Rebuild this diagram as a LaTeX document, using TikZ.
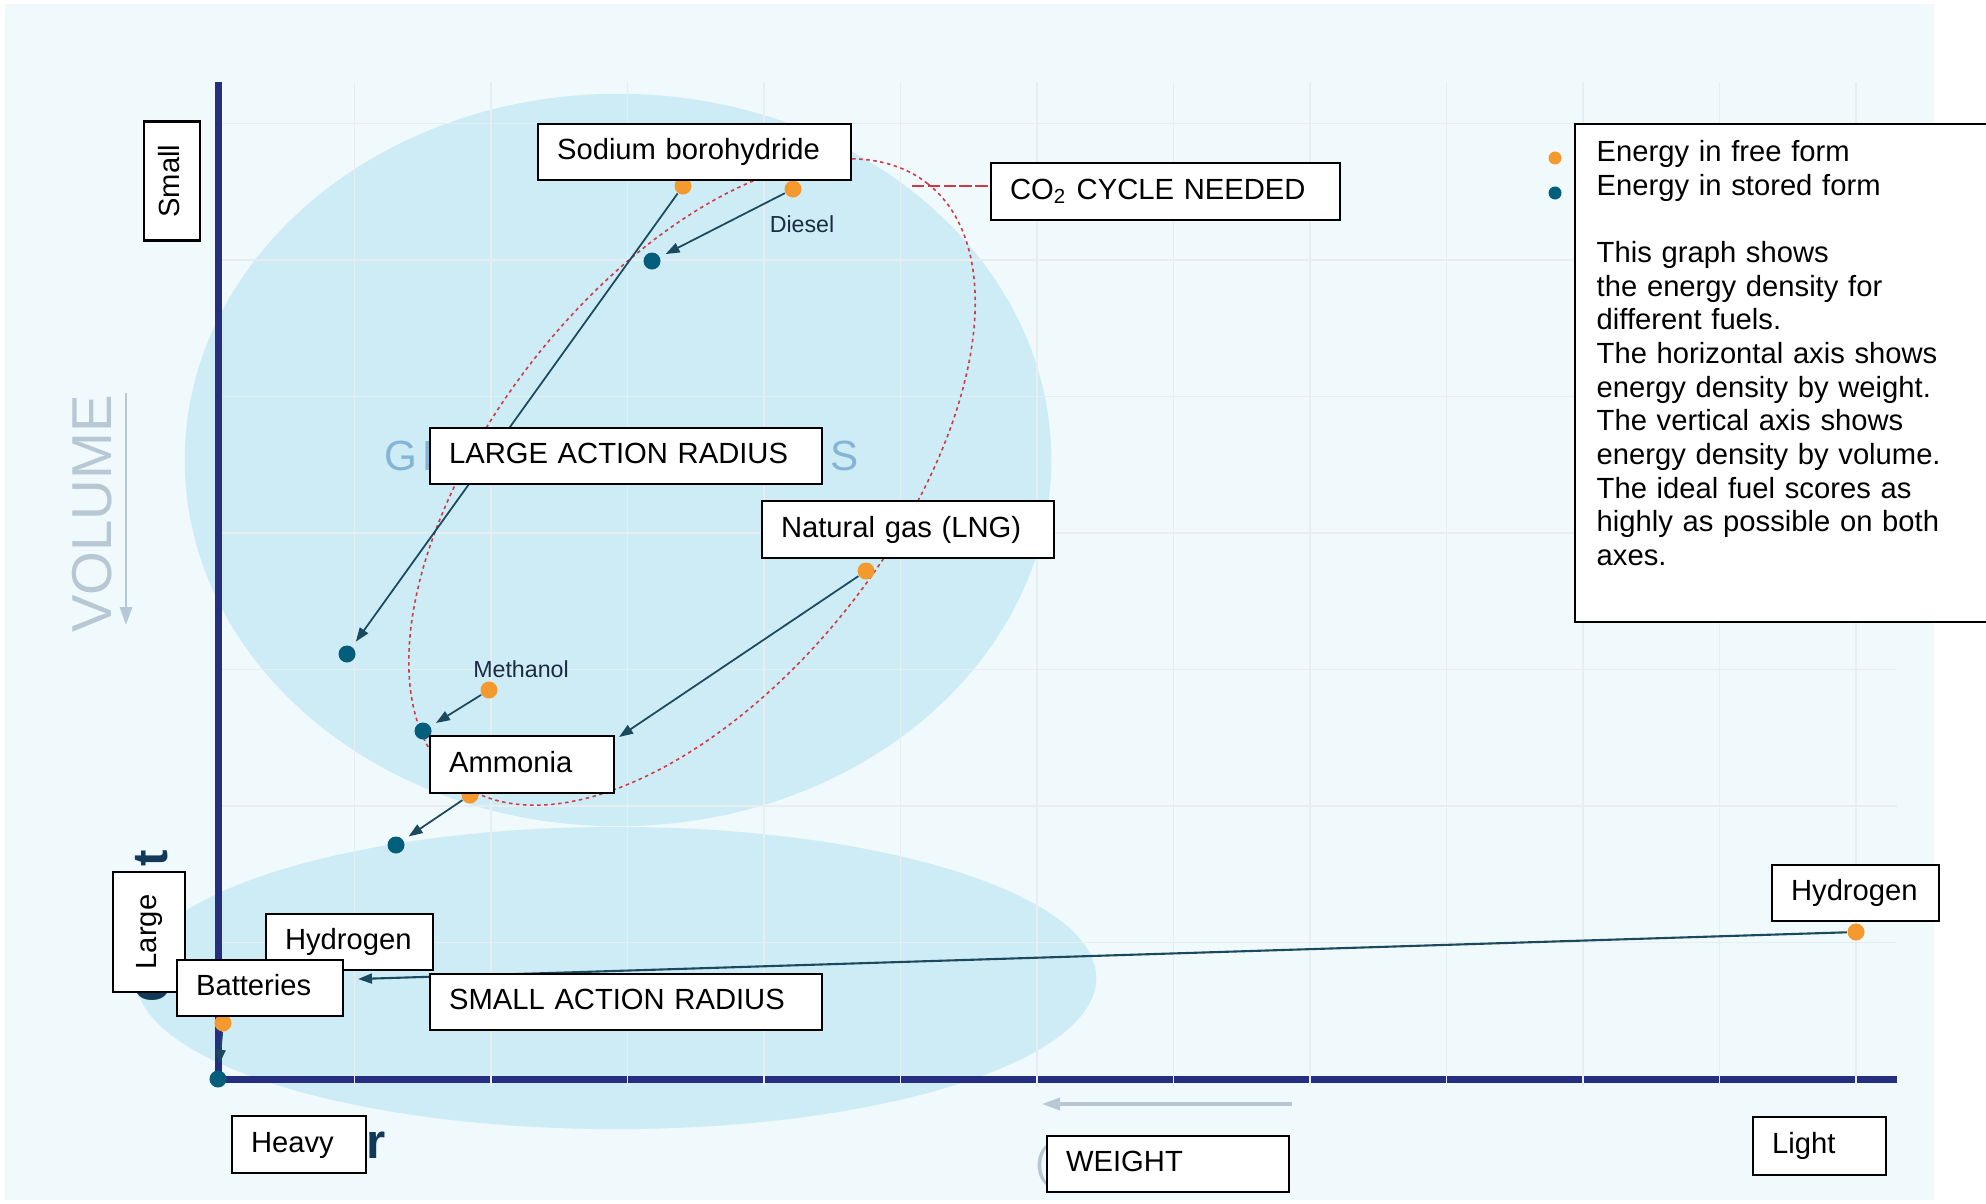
\documentclass[tikz,border=0pt]{standalone}
\usepackage{fontspec}
\setmainfont{Liberation Sans}
\usetikzlibrary{arrows.meta,positioning}

\definecolor{bgblue}{HTML}{F0F9FC}
\definecolor{blobblue}{HTML}{CDECF5}
\definecolor{gridtone}{HTML}{E6EEF2}
\definecolor{axisnavy}{HTML}{262F7F}
\definecolor{fuelorange}{HTML}{F3992D}
\definecolor{fuelteal}{HTML}{035E7B}
\definecolor{arrowteal}{HTML}{1B4A5E}
\definecolor{co2red}{HTML}{D13A44}
\definecolor{hintgray}{HTML}{B7C8D4}
\definecolor{ghostblue}{HTML}{84B5D5}
\definecolor{ghostnavy}{HTML}{12385A}
\definecolor{smalltext}{HTML}{1C2B45}

\begin{document}
\begin{tikzpicture}[x=0.01cm, y=-0.01cm,
    lbl/.style={draw=black, line width=0.6pt, fill=white, anchor=north west,
        inner xsep=0.19cm, inner ysep=0pt, align=left,
        text height=0.21cm, text depth=0.06cm,
        font=\fontsize{8.3}{9.56}\selectfont},
    vlbl/.style={lbl, anchor=center, rotate=90, inner xsep=0pt, align=center},
    fdot/.style={circle, fill=fuelorange, inner sep=0pt, minimum size=0.17cm},
    sdot/.style={circle, fill=fuelteal, inner sep=0pt, minimum size=0.17cm},
    conn/.style={draw=arrowteal, line width=0.5pt, -{Triangle[length=0.14cm,width=0.1cm]}, shorten >=0.06cm},
    hint/.style={draw=hintgray, line width=0.8pt, -{Triangle[length=0.18cm,width=0.12cm]}},
    fuelname/.style={text=smalltext, font=\fontsize{6.6}{8}\selectfont},
    ghost/.style={inner sep=0pt, text=ghostblue, font=\fontsize{12}{14}\selectfont},
    ghostbold/.style={inner sep=0pt, text=ghostnavy, font=\fontsize{14}{16}\selectfont\bfseries},
    gridline/.style={draw=gridtone, line width=0.4pt},
    co2ring/.style={draw=co2red, line width=0.45pt, dash pattern=on 1pt off 1pt},
    co2link/.style={draw=co2red, line width=0.7pt, dash pattern=on 3.5pt off 1pt}
]
\useasboundingbox (0,0) rectangle (1986,1203);
\clip (0,0) rectangle (1986,1203);

% background and the two zones
\fill[white] (0,0) rectangle (1986,1203);
\fill[bgblue] (5,4) rectangle (1934,1200);
\fill[blobblue] (618,460) ellipse [x radius=4.33cm, y radius=3.66cm];
\fill[blobblue] (616,978) ellipse [x radius=4.8cm, y radius=1.51cm];

% axes and faint grid
\draw[axisnavy, line width=0.07cm] (218,82) -- (218,1079) -- (1897,1079);
\foreach \k in {1,...,7}
    \draw[gridline] (222,{1079-136.5*\k}) -- (1897,{1079-136.5*\k});
\foreach \k in {1,...,12}
    \draw[gridline] ({218+136.5*\k},82) -- ({218+136.5*\k},1086);

% axis hints
\node[rotate=90, text=hintgray, font=\fontsize{16}{18}\selectfont] (volume) at (92,514) {VOLUME};
\coordinate (volstart) at (126,393);
\coordinate (volend) at (126,625);
\draw[hint] (volstart) -- (volend);
\coordinate (wtstart) at (1292,1104);
\coordinate (wtend) at (1042,1104);
\draw[hint, line width=1pt] (wtstart) -- (wtend);

% bits of lettering behind the boxes
\node[ghost, anchor=west] (gfront) at (384,456) {G\hspace{0.05cm}F};
\node[ghost, anchor=west] (gback) at (830,456) {S};
\node[ghost, text=hintgray] (paren) at (1043,1166) {(};
\node[ghostbold, rotate=90] (tmark) at (152,858) {t};
\node[ghostbold, rotate=90] (cmark) at (153,985) {C};
\node[ghostbold, anchor=base west] (rmark) at (366,1158) {r};

% CO2 cycle
\draw[co2ring, rotate around={51.7:(692,482)}] (692,482) ellipse [x radius=3.8cm, y radius=2.0cm];
\coordinate (co2pt) at (912,186);

% fuels: free form and stored form
\node[fdot] (sodf) at (683,186) {};
\node[sdot] (sods) at (347,654) {};
\node[fdot] (diesf) at (793,189) {};
\node[sdot] (diess) at (652,261) {};
\node[fdot] (lngf) at (866,571) {};
\coordinate (lngend) at (619,737);
\node[fdot] (methf) at (489,690) {};
\node[sdot] (meths) at (423,731) {};
\node[fdot] (ammf) at (470,795) {};
\node[sdot] (amms) at (396,845) {};
\node[fdot] (batf) at (223,1023) {};
\node[sdot] (bats) at (218,1079) {};
\node[fdot] (h2f) at (1856,932) {};
\coordinate (h2end) at (358,979);

\draw[conn] (sodf) -- (sods);
\draw[conn] (diesf) -- (diess);
\draw[conn, shorten >=0pt] (lngf) -- (lngend);
\draw[conn] (methf) -- (meths);
\draw[conn] (ammf) -- (amms);
\draw[conn] (batf) -- (bats);
\draw[conn, shorten >=0pt, line width=0.6pt] (h2f) -- (h2end);

\node[fuelname] (diesname) at (802,224) {Diesel};
\node[fuelname] (methname) at (521,669) {Methanol};

% labels
\node[vlbl, minimum width=1.19cm, minimum height=0.56cm] (small) at (172,181) {Small};
\node[lbl, text width=2.75cm, minimum height=0.56cm] (sodium) at (537,123) {Sodium borohydride};
\node[lbl, text width=3.11cm, minimum height=0.57cm] (co2) at (990,162) {CO\textsubscript{2} CYCLE NEEDED};
\node[lbl, text width=3.54cm, minimum height=0.56cm] (largear) at (429,427) {LARGE ACTION RADIUS};
\node[lbl, text width=2.54cm, minimum height=0.57cm] (natgas) at (761,500) {Natural gas (LNG)};
\node[lbl, text width=1.46cm, minimum height=0.57cm] (ammonia) at (429,735) {Ammonia};
\node[lbl, text width=1.29cm, minimum height=0.56cm] (h2left) at (265,913) {Hydrogen};
\node[vlbl, minimum width=1.2cm, minimum height=0.72cm] (large) at (149,932) {Large};
\node[lbl, text width=1.28cm, minimum height=0.56cm] (batteries) at (176,959) {Batteries};
\node[lbl, text width=3.54cm, minimum height=0.56cm] (smallar) at (429,973) {SMALL ACTION RADIUS};
\node[lbl, text width=0.96cm, minimum height=0.57cm] (heavy) at (231,1115) {Heavy};
\node[lbl, text width=2.04cm, minimum height=0.56cm] (weight) at (1046,1135) {WEIGHT};
\node[lbl, text width=0.95cm, minimum height=0.58cm] (light) at (1752,1116) {Light};
\node[lbl, text width=1.29cm, minimum height=0.56cm] (h2right) at (1771,864) {Hydrogen};

\draw[co2link] (co2pt) -- (co2pt -| co2.west);

% legend
\node[lbl, minimum width=4.3cm, minimum height=4.98cm] (legend) at (1574,123) {};
\node[anchor=north west, inner sep=0pt, align=left, text width=3.9cm,
    font=\fontsize{8.3}{9.56}\selectfont] (legendtext) at (1596,140)
    {Energy in free form\\
     Energy in stored form\\[9.56pt]
     This graph shows\\
     the energy density for\\
     different fuels.\\
     The horizontal axis shows\\
     energy density by weight.\\
     The vertical axis shows\\
     energy density by volume.\\
     The ideal fuel scores as\\
     highly as possible on both\\
     axes.};
\node[fdot, minimum size=0.13cm] (legfree) at (1555,158) {};
\node[sdot, minimum size=0.13cm] (legstored) at (1555,193) {};
\end{tikzpicture}
\end{document}
